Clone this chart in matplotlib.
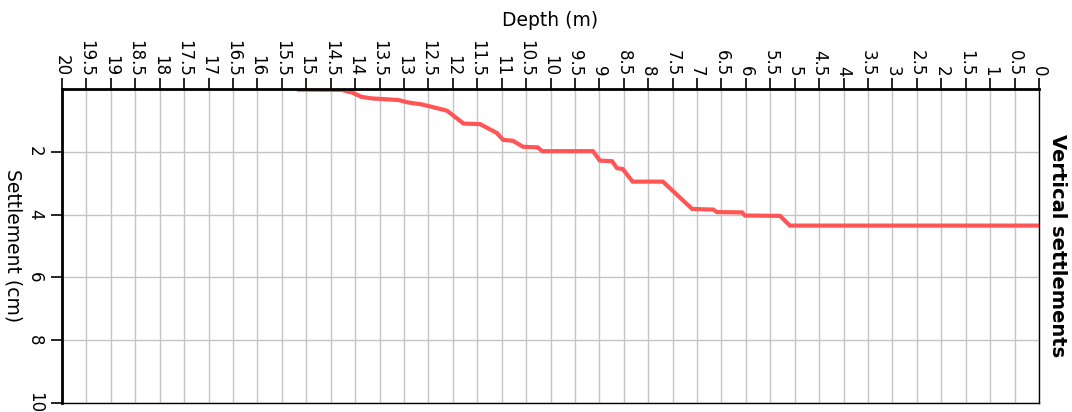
import matplotlib
matplotlib.use("Agg")
import matplotlib.pyplot as plt
from matplotlib.ticker import MultipleLocator, FormatStrFormatter

# Settlement profile along depth
depth = [15.15, 14.27, 14.05, 13.87, 13.66, 13.12, 12.91, 12.64, 12.40, 12.12,
         11.78, 11.44, 11.10, 10.97, 10.77, 10.56, 10.26, 10.17, 9.13, 8.99,
         8.74, 8.64, 8.52, 8.32, 7.70, 7.10, 6.67, 6.59, 6.08, 6.02,
         5.30, 5.10, 0.0]
settlement = [0.02, 0.03, 0.12, 0.25, 0.30, 0.35, 0.43, 0.49, 0.58, 0.69,
              1.10, 1.12, 1.40, 1.62, 1.65, 1.84, 1.86, 1.98, 1.98, 2.28,
              2.30, 2.52, 2.55, 2.95, 2.95, 3.82, 3.84, 3.92, 3.93, 4.03,
              4.04, 4.35, 4.35]

settle_ticks = [2, 4, 6, 8, 10]

fig = plt.figure(figsize=(10.72, 4.12), dpi=100)
ax = fig.add_axes([62/1072, 1 - 403/412, (1039 - 62)/1072, (403 - 89)/412])

ax.plot(depth, settlement, color="#ff5555", lw=3, solid_joinstyle="miter")

ax.set_xlim(20, 0)
ax.set_ylim(10, 0)

ax.xaxis.tick_top()
ax.xaxis.set_major_locator(MultipleLocator(0.5))
ax.xaxis.set_major_formatter(FormatStrFormatter("%g"))
ax.set_yticks(settle_ticks)

ax.tick_params(axis="x", which="major", length=8, width=1.2, pad=1,
               labelsize=12, labelrotation=-90, colors="black")
ax.tick_params(axis="y", which="major", length=8, width=1.2, pad=5,
               labelsize=12, labelrotation=-90, colors="black")
for lab in ax.get_yticklabels():
    lab.set_va("center")

ax.grid(True, color="#c4c4c4", lw=1.0)
ax.set_axisbelow(True)

for side in ["left", "top"]:
    ax.spines[side].set_linewidth(2.0)
for side in ["right", "bottom"]:
    ax.spines[side].set_linewidth(1.0)
for s in ax.spines.values():
    s.set_color("black")

fig.text(550/1072, 1 - 21/412, "Depth (m)", ha="center", va="center",
         fontsize=13.5)
fig.text(13/1072, 1 - 246/412, "Settlement (cm)", ha="center", va="center",
         rotation=-90, fontsize=13.5)
fig.text(1058/1072, 1 - 246/412, "Vertical settlements", ha="center",
         va="center", rotation=-90, fontsize=14, fontweight="bold")

fig.savefig("out.png", dpi=100)
